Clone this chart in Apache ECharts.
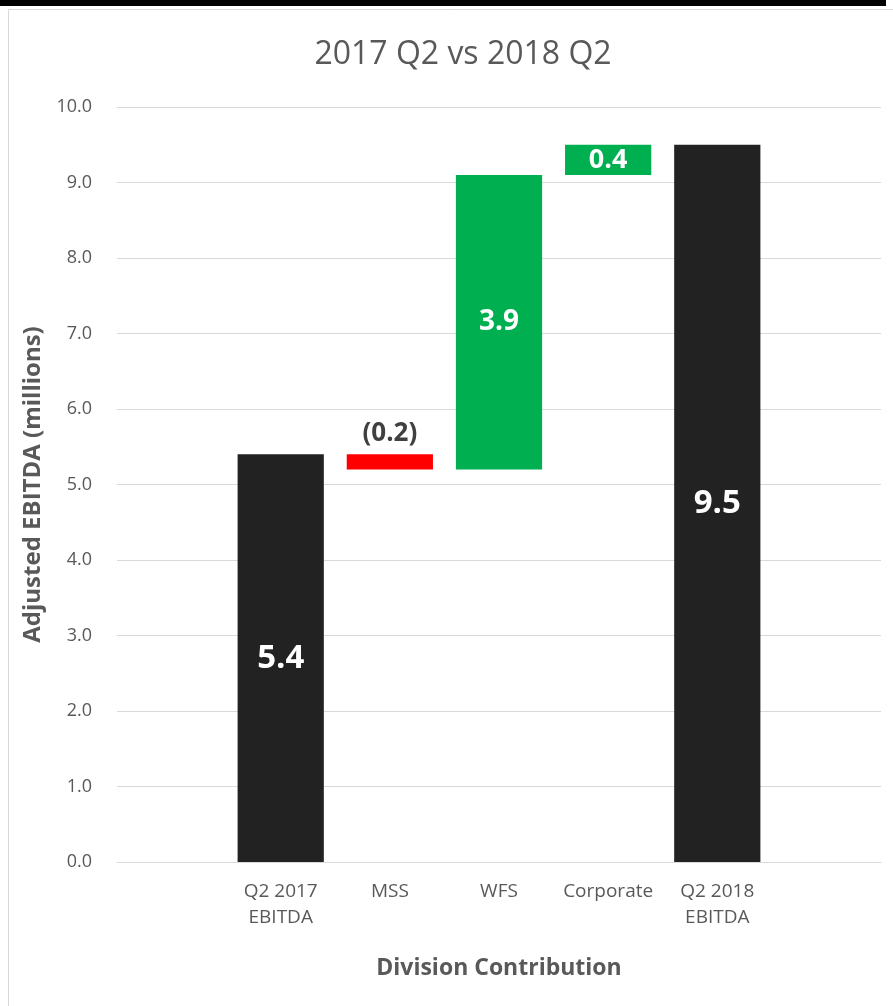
<!DOCTYPE html>
<html>
<head>
<meta charset="utf-8">
<script src="https://cdn.jsdelivr.net/npm/echarts@6/dist/echarts.min.js"></script>
<style>
html,body{margin:0;padding:0;background:#fff;}
#chart{width:893px;height:1006px;}
</style>
</head>
<body>
<div id="chart"></div>
<script>
var categories = ['', 'Q2 2017\nEBITDA', 'MSS', 'WFS', 'Corporate', 'Q2 2018\nEBITDA', ''];
var baseValues = [null, 0, 5.2, 5.2, 9.1, 0, null];
var deltaValues = [null, 5.4, 0.2, 3.9, 0.4, 9.5, null];
var labelTexts = ['', '5.4', '(0.2)', '3.9', '0.4', '9.5', ''];
var barColors = ['#222222', '#222222', '#FF0000', '#00B050', '#00B050', '#222222', '#222222'];
var yTicks = [0, 1, 2, 3, 4, 5, 6, 7, 8, 9, 10];

var FONT = "'Open Sans', 'Noto Sans', sans-serif";
var chart = echarts.init(document.getElementById('chart'), null, {renderer: 'canvas'});

var labelStyles = [
  null,
  {position: 'inside', color: '#fff', fontSize: 33},
  {position: 'top', color: '#404040', fontSize: 26, distance: 8},
  {position: 'inside', color: '#fff', fontSize: 28},
  {position: 'inside', color: '#fff', fontSize: 27},
  {position: 'inside', color: '#fff', fontSize: 33},
  null
];

var deltaData = deltaValues.map(function (v, i) {
  var ls = labelStyles[i] || {};
  return {
    value: v,
    itemStyle: {color: barColors[i]},
    label: {
      show: v !== null,
      position: ls.position,
      distance: ls.distance || 5,
      color: ls.color,
      fontSize: ls.fontSize,
      fontWeight: 'bold',
      fontFamily: FONT,
      formatter: function () { return labelTexts[i]; }
    }
  };
});

chart.setOption({
  backgroundColor: '#ffffff',
  animation: false,
  title: {
    text: '2017 Q2 vs 2018 Q2',
    left: 458, top: 34, textAlign: 'center',
    textStyle: {fontFamily: FONT, fontSize: 32, fontWeight: 'normal', color: '#595959'}
  },
  graphic: [
    {type: 'rect', shape: {x: 0, y: 0, width: 886, height: 6}, style: {fill: '#000'}, silent: true},
    {type: 'line', shape: {x1: 8.5, y1: 9.5, x2: 893, y2: 9.5}, style: {stroke: '#d9d9d9', lineWidth: 1}, silent: true},
    {type: 'line', shape: {x1: 8.5, y1: 9.5, x2: 8.5, y2: 1006}, style: {stroke: '#d9d9d9', lineWidth: 1}, silent: true}
  ],
  grid: {left: 117, right: 12, top: 107, bottom: 144, containLabel: false},
  xAxis: {
    type: 'category',
    data: categories,
    axisTick: {show: false},
    axisLine: {show: true, lineStyle: {color: '#d9d9d9', width: 1}},
    axisLabel: {color: '#595959', fontFamily: FONT, fontSize: 19, lineHeight: 26, margin: 17, interval: 0},
    name: 'Division Contribution',
    nameLocation: 'middle',
    nameGap: 95,
    nameTextStyle: {color: '#595959', fontFamily: FONT, fontSize: 23, fontWeight: 'bold'}
  },
  yAxis: {
    type: 'value',
    min: 0, max: 10, interval: 1,
    axisLine: {show: false},
    axisTick: {show: false},
    splitLine: {lineStyle: {color: '#d9d9d9', width: 1}},
    axisLabel: {
      color: '#595959', fontFamily: FONT, fontSize: 18, margin: 25,
      formatter: function (v) { return yTicks.indexOf(v) >= 0 ? v.toFixed(1) : ''; }
    },
    name: 'Adjusted EBITDA (millions)',
    nameLocation: 'middle',
    nameGap: 71,
    nameRotate: 90,
    nameTextStyle: {color: '#595959', fontFamily: FONT, fontSize: 24, fontWeight: 'bold'}
  },
  series: [
    {
      name: 'base', type: 'bar', stack: 'w', data: baseValues,
      itemStyle: {color: 'rgba(0,0,0,0)'}, barCategoryGap: '21%', silent: true
    },
    {
      name: 'delta', type: 'bar', stack: 'w', data: deltaData, barCategoryGap: '21%'
    }
  ]
});
</script>
</body>
</html>
